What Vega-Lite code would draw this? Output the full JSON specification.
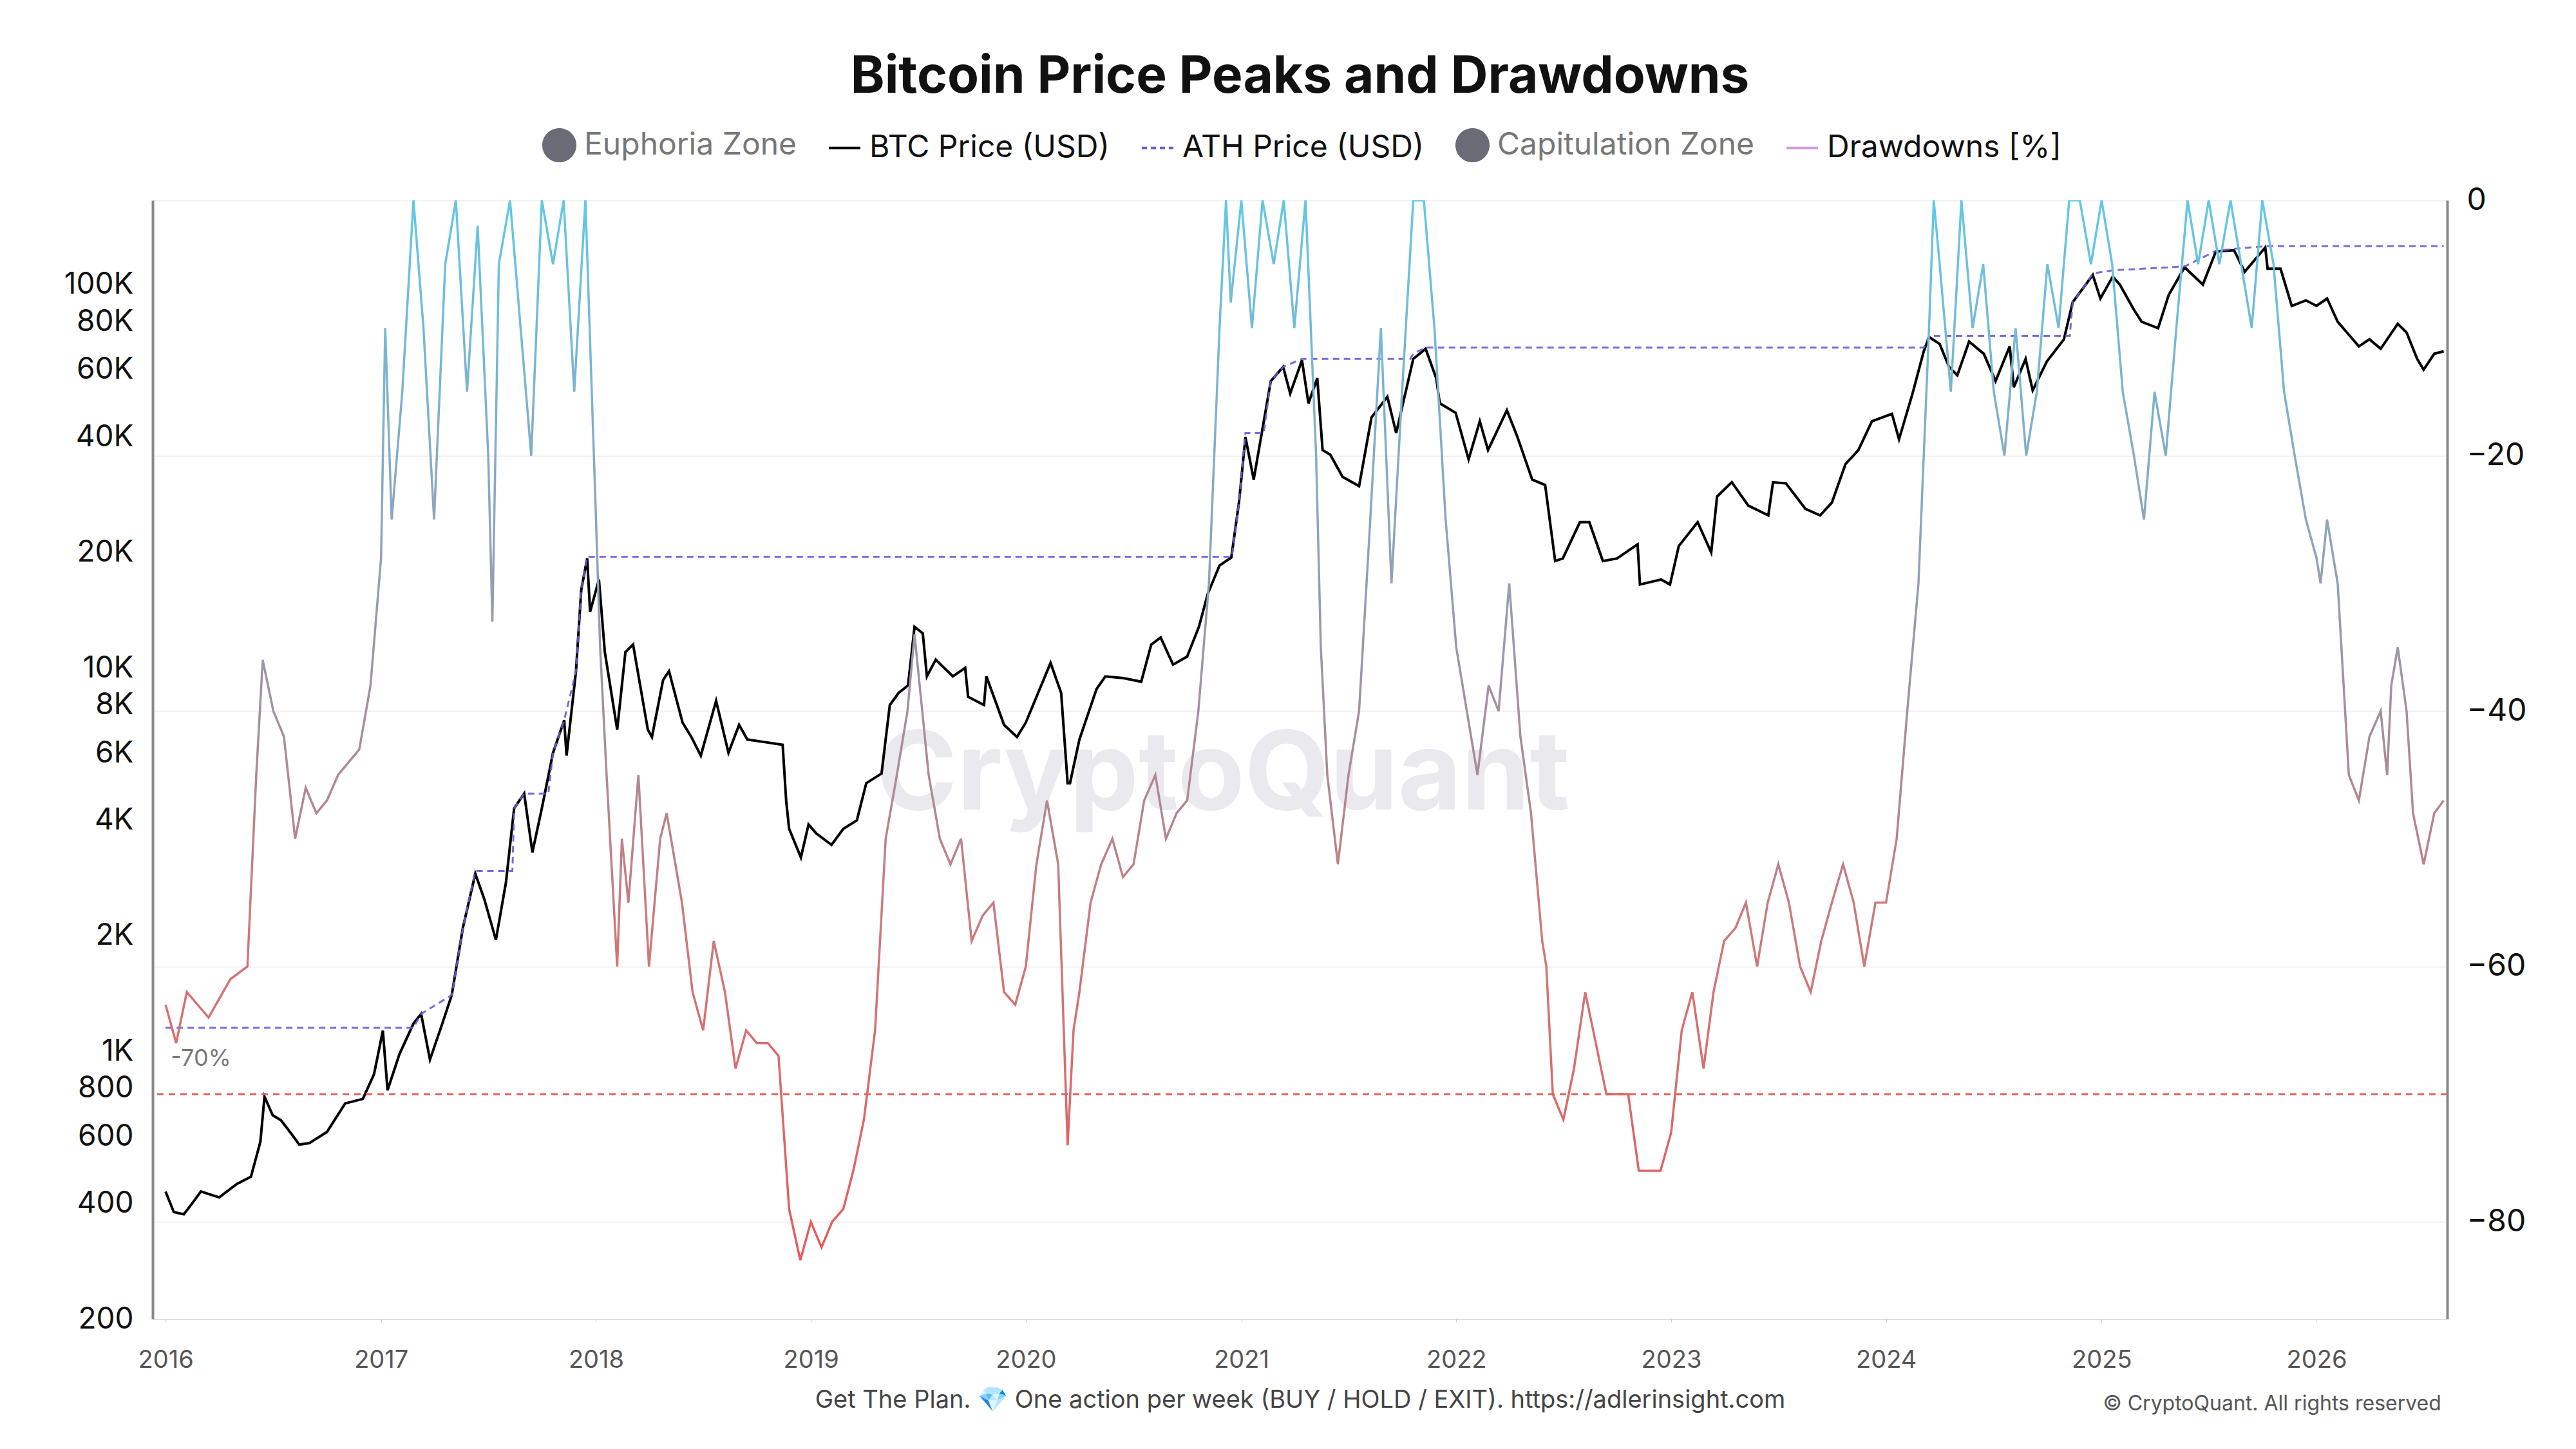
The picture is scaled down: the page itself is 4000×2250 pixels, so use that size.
{
"$schema":"https://vega.github.io/schema/vega-lite/v6.json",
"autosize":{"type":"none"},
"width":3563,"height":1737,
"padding":{"left":237,"top":311,"right":200,"bottom":202},
"background":"white",
"config":{"font":"Inter","view":{"stroke":null}},
"title":{"text":"Bitcoin Price Peaks and Drawdowns","fontSize":80,"fontWeight":"bold","color":"#111","anchor":"middle","offset":38,"font":"Inter"},
"datasets":{
"price":[
{"date":"2016-01-01","p":430},{"date":"2016-01-15","p":380},{"date":"2016-02-01","p":375},{"date":"2016-02-15","p":400},{"date":"2016-03-01","p":430},{"date":"2016-04-01","p":415},{"date":"2016-05-01","p":450},{"date":"2016-05-25","p":470},{"date":"2016-06-10","p":580},{"date":"2016-06-17","p":760},{"date":"2016-07-01","p":680},{"date":"2016-07-15","p":660},{"date":"2016-08-01","p":610},{"date":"2016-08-15","p":570},{"date":"2016-09-01","p":575},{"date":"2016-10-01","p":615},{"date":"2016-11-01","p":730},{"date":"2016-12-01","p":750},{"date":"2016-12-20","p":870},{"date":"2017-01-04","p":1130},{"date":"2017-01-12","p":790},{"date":"2017-02-01","p":980},{"date":"2017-02-25","p":1180},{"date":"2017-03-10","p":1250},{"date":"2017-03-25","p":950},{"date":"2017-04-15","p":1180},{"date":"2017-05-01","p":1400},{"date":"2017-05-20","p":2100},{"date":"2017-06-10","p":2900},{"date":"2017-06-25","p":2500},{"date":"2017-07-15","p":1950},{"date":"2017-08-01","p":2750},{"date":"2017-08-15","p":4300},{"date":"2017-09-01","p":4700},{"date":"2017-09-15","p":3300},{"date":"2017-10-01","p":4300},{"date":"2017-10-20","p":6000},{"date":"2017-11-08","p":7300},{"date":"2017-11-12","p":5900},{"date":"2017-11-28","p":9800},{"date":"2017-12-07","p":16000},{"date":"2017-12-17","p":19300},{"date":"2017-12-22","p":14000},{"date":"2018-01-06","p":17000},{"date":"2018-01-16","p":11000},{"date":"2018-02-06","p":6900},{"date":"2018-02-20","p":11000},{"date":"2018-03-05","p":11500},{"date":"2018-03-30","p":6900},{"date":"2018-04-06","p":6600},{"date":"2018-04-25","p":9300},{"date":"2018-05-05","p":9800},{"date":"2018-05-28","p":7200},{"date":"2018-06-12","p":6600},{"date":"2018-06-28","p":5900},{"date":"2018-07-24","p":8200},{"date":"2018-08-14","p":6000},{"date":"2018-09-01","p":7100},{"date":"2018-09-15","p":6500},{"date":"2018-10-15","p":6400},{"date":"2018-11-14","p":6300},{"date":"2018-11-20","p":4500},{"date":"2018-11-25","p":3800},{"date":"2018-12-15","p":3200},{"date":"2018-12-28","p":3900},{"date":"2019-01-10","p":3700},{"date":"2019-02-05","p":3450},{"date":"2019-02-25","p":3800},{"date":"2019-03-20","p":4000},{"date":"2019-04-05","p":5000},{"date":"2019-05-01","p":5300},{"date":"2019-05-15","p":8000},{"date":"2019-05-30","p":8600},{"date":"2019-06-15","p":9000},{"date":"2019-06-26","p":12800},{"date":"2019-07-10","p":12300},{"date":"2019-07-17","p":9500},{"date":"2019-08-01","p":10500},{"date":"2019-08-30","p":9500},{"date":"2019-09-20","p":10000},{"date":"2019-09-25","p":8400},{"date":"2019-10-22","p":8000},{"date":"2019-10-26","p":9500},{"date":"2019-11-25","p":7100},{"date":"2019-12-17","p":6600},{"date":"2020-01-01","p":7200},{"date":"2020-02-12","p":10300},{"date":"2020-03-01","p":8600},{"date":"2020-03-12","p":5000},{"date":"2020-03-16","p":5000},{"date":"2020-04-01","p":6500},{"date":"2020-04-30","p":8800},{"date":"2020-05-15","p":9500},{"date":"2020-06-15","p":9400},{"date":"2020-07-15","p":9200},{"date":"2020-08-01","p":11500},{"date":"2020-08-17","p":12000},{"date":"2020-09-07","p":10200},{"date":"2020-10-01","p":10700},{"date":"2020-10-21","p":12800},{"date":"2020-11-05","p":15600},{"date":"2020-11-25","p":18500},{"date":"2020-12-15","p":19400},{"date":"2020-12-28","p":27000},{"date":"2021-01-08","p":40000},{"date":"2021-01-22","p":31000},{"date":"2021-02-20","p":56000},{"date":"2021-03-13","p":61000},{"date":"2021-03-25","p":52000},{"date":"2021-04-14","p":63500},{"date":"2021-04-25","p":49000},{"date":"2021-05-10","p":57000},{"date":"2021-05-19","p":37000},{"date":"2021-06-01","p":36000},{"date":"2021-06-22","p":31500},{"date":"2021-07-20","p":29800},{"date":"2021-08-10","p":45000},{"date":"2021-09-06","p":51000},{"date":"2021-09-21","p":41000},{"date":"2021-10-20","p":64000},{"date":"2021-11-10","p":68000},{"date":"2021-11-28","p":57000},{"date":"2021-12-04","p":49000},{"date":"2021-12-31","p":46300},{"date":"2022-01-22","p":35000},{"date":"2022-02-10","p":44000},{"date":"2022-02-24","p":37000},{"date":"2022-03-28","p":47000},{"date":"2022-04-15","p":40000},{"date":"2022-05-10","p":31000},{"date":"2022-06-01","p":30000},{"date":"2022-06-18","p":19000},{"date":"2022-07-01","p":19300},{"date":"2022-07-30","p":24000},{"date":"2022-08-15","p":24000},{"date":"2022-09-07","p":19000},{"date":"2022-10-01","p":19300},{"date":"2022-11-05","p":21000},{"date":"2022-11-09","p":16500},{"date":"2022-12-15","p":17000},{"date":"2022-12-30","p":16500},{"date":"2023-01-14","p":20800},{"date":"2023-02-15","p":24000},{"date":"2023-03-10","p":20000},{"date":"2023-03-20","p":28000},{"date":"2023-04-14","p":30500},{"date":"2023-05-12","p":26500},{"date":"2023-06-15","p":25000},{"date":"2023-06-23","p":30500},{"date":"2023-07-15","p":30300},{"date":"2023-08-17","p":26000},{"date":"2023-09-11","p":25000},{"date":"2023-10-01","p":27000},{"date":"2023-10-24","p":34000},{"date":"2023-11-15","p":37000},{"date":"2023-12-08","p":44000},{"date":"2024-01-11","p":46000},{"date":"2024-01-23","p":39500},{"date":"2024-02-15","p":52000},{"date":"2024-03-05","p":67000},{"date":"2024-03-14","p":73000},{"date":"2024-04-01","p":70000},{"date":"2024-04-17","p":61000},{"date":"2024-05-01","p":58000},{"date":"2024-05-21","p":71000},{"date":"2024-06-15","p":66000},{"date":"2024-07-05","p":56000},{"date":"2024-07-29","p":69000},{"date":"2024-08-05","p":54000},{"date":"2024-08-25","p":64000},{"date":"2024-09-06","p":53000},{"date":"2024-09-30","p":63000},{"date":"2024-10-29","p":72000},{"date":"2024-11-13","p":90000},{"date":"2024-12-05","p":100000},{"date":"2024-12-17","p":106000},{"date":"2024-12-30","p":92000},{"date":"2025-01-20","p":105000},{"date":"2025-02-01","p":100000},{"date":"2025-02-25","p":86000},{"date":"2025-03-10","p":80000},{"date":"2025-04-07","p":77000},{"date":"2025-04-25","p":94000},{"date":"2025-05-22","p":111000},{"date":"2025-06-22","p":100000},{"date":"2025-07-14","p":122000},{"date":"2025-08-14","p":123000},{"date":"2025-09-01","p":108000},{"date":"2025-10-06","p":125000},{"date":"2025-10-10","p":110000},{"date":"2025-11-01","p":110000},{"date":"2025-11-20","p":88000},{"date":"2025-12-14","p":91000},{"date":"2026-01-01","p":88000},{"date":"2026-01-19","p":92000},{"date":"2026-02-06","p":80000},{"date":"2026-02-25","p":74000},{"date":"2026-03-14","p":69000},{"date":"2026-04-01","p":72000},{"date":"2026-04-20","p":68000},{"date":"2026-05-19","p":79000},{"date":"2026-06-03","p":75000},{"date":"2026-06-21","p":64000},{"date":"2026-07-02","p":60000},{"date":"2026-07-20","p":66000},{"date":"2026-08-05","p":67000}
],
"ath":[
{"date":"2016-01-01","a":1150},{"date":"2017-02-25","a":1150},{"date":"2017-03-10","a":1250},{"date":"2017-05-01","a":1400},{"date":"2017-05-20","a":2100},{"date":"2017-06-10","a":2950},{"date":"2017-08-12","a":2950},{"date":"2017-08-15","a":4300},{"date":"2017-09-01","a":4700},{"date":"2017-10-12","a":4700},{"date":"2017-10-20","a":6000},{"date":"2017-11-08","a":7300},{"date":"2017-11-28","a":9800},{"date":"2017-12-07","a":16000},{"date":"2017-12-17","a":19500},{"date":"2020-12-16","a":19500},{"date":"2020-12-28","a":27000},{"date":"2021-01-08","a":41000},{"date":"2021-02-08","a":41000},{"date":"2021-02-20","a":56000},{"date":"2021-03-13","a":61000},{"date":"2021-04-14","a":64000},{"date":"2021-10-15","a":64000},{"date":"2021-10-20","a":66000},{"date":"2021-11-10","a":68500},{"date":"2024-03-05","a":68500},{"date":"2024-03-14","a":73500},{"date":"2024-11-08","a":73500},{"date":"2024-11-13","a":90000},{"date":"2024-12-05","a":100000},{"date":"2024-12-17","a":107000},{"date":"2025-01-20","a":109000},{"date":"2025-05-22","a":111500},{"date":"2025-07-14","a":122500},{"date":"2025-08-14","a":124000},{"date":"2025-10-06","a":126000},{"date":"2026-08-05","a":126000}
],
"dd":[
{"date":"2016-01-01","d":-63},{"date":"2016-01-19","d":-66},{"date":"2016-02-06","d":-62},{"date":"2016-03-14","d":-64},{"date":"2016-04-20","d":-61},{"date":"2016-05-19","d":-60},{"date":"2016-06-03","d":-45},{"date":"2016-06-14","d":-36},{"date":"2016-07-02","d":-40},{"date":"2016-07-20","d":-42},{"date":"2016-08-08","d":-50},{"date":"2016-08-26","d":-46},{"date":"2016-09-13","d":-48},{"date":"2016-10-01","d":-47},{"date":"2016-10-20","d":-45},{"date":"2016-11-25","d":-43},{"date":"2016-12-14","d":-38},{"date":"2017-01-01","d":-28},{"date":"2017-01-08","d":-10},{"date":"2017-01-19","d":-25},{"date":"2017-02-06","d":-15},{"date":"2017-02-25","d":0},{"date":"2017-03-14","d":-10},{"date":"2017-04-01","d":-25},{"date":"2017-04-20","d":-5},{"date":"2017-05-08","d":0},{"date":"2017-05-27","d":-15},{"date":"2017-06-14","d":-2},{"date":"2017-07-02","d":-20},{"date":"2017-07-09","d":-33},{"date":"2017-07-20","d":-5},{"date":"2017-08-08","d":0},{"date":"2017-08-26","d":-10},{"date":"2017-09-13","d":-20},{"date":"2017-10-01","d":0},{"date":"2017-10-20","d":-5},{"date":"2017-11-07","d":0},{"date":"2017-11-25","d":-15},{"date":"2017-12-14","d":0},{"date":"2018-01-01","d":-25},{"date":"2018-01-08","d":-35},{"date":"2018-01-19","d":-45},{"date":"2018-02-06","d":-60},{"date":"2018-02-14","d":-50},{"date":"2018-02-25","d":-55},{"date":"2018-03-14","d":-45},{"date":"2018-04-01","d":-60},{"date":"2018-04-20","d":-50},{"date":"2018-05-01","d":-48},{"date":"2018-05-27","d":-55},{"date":"2018-06-14","d":-62},{"date":"2018-07-02","d":-65},{"date":"2018-07-20","d":-58},{"date":"2018-08-08","d":-62},{"date":"2018-08-26","d":-68},{"date":"2018-09-13","d":-65},{"date":"2018-10-01","d":-66},{"date":"2018-10-20","d":-66},{"date":"2018-11-07","d":-67},{"date":"2018-11-25","d":-79},{"date":"2018-12-14","d":-83},{"date":"2019-01-01","d":-80},{"date":"2019-01-19","d":-82},{"date":"2019-02-06","d":-80},{"date":"2019-02-25","d":-79},{"date":"2019-03-14","d":-76},{"date":"2019-04-01","d":-72},{"date":"2019-04-20","d":-65},{"date":"2019-05-08","d":-50},{"date":"2019-05-27","d":-45},{"date":"2019-06-14","d":-40},{"date":"2019-06-26","d":-34},{"date":"2019-07-20","d":-45},{"date":"2019-08-08","d":-50},{"date":"2019-08-26","d":-52},{"date":"2019-09-13","d":-50},{"date":"2019-10-01","d":-58},{"date":"2019-10-20","d":-56},{"date":"2019-11-07","d":-55},{"date":"2019-11-25","d":-62},{"date":"2019-12-14","d":-63},{"date":"2020-01-01","d":-60},{"date":"2020-01-19","d":-52},{"date":"2020-02-06","d":-47},{"date":"2020-02-25","d":-52},{"date":"2020-03-12","d":-74},{"date":"2020-03-22","d":-65},{"date":"2020-04-01","d":-62},{"date":"2020-04-20","d":-55},{"date":"2020-05-08","d":-52},{"date":"2020-05-27","d":-50},{"date":"2020-06-14","d":-53},{"date":"2020-07-02","d":-52},{"date":"2020-07-20","d":-47},{"date":"2020-08-08","d":-45},{"date":"2020-08-26","d":-50},{"date":"2020-09-13","d":-48},{"date":"2020-10-01","d":-47},{"date":"2020-10-20","d":-40},{"date":"2020-11-07","d":-30},{"date":"2020-11-25","d":-10},{"date":"2020-12-06","d":0},{"date":"2020-12-14","d":-8},{"date":"2021-01-01","d":0},{"date":"2021-01-19","d":-10},{"date":"2021-02-06","d":0},{"date":"2021-02-25","d":-5},{"date":"2021-03-14","d":0},{"date":"2021-04-01","d":-10},{"date":"2021-04-20","d":0},{"date":"2021-05-08","d":-20},{"date":"2021-05-16","d":-35},{"date":"2021-05-27","d":-45},{"date":"2021-06-14","d":-52},{"date":"2021-07-02","d":-45},{"date":"2021-07-20","d":-40},{"date":"2021-08-08","d":-25},{"date":"2021-08-26","d":-10},{"date":"2021-09-13","d":-30},{"date":"2021-10-01","d":-15},{"date":"2021-10-20","d":0},{"date":"2021-11-07","d":0},{"date":"2021-11-25","d":-10},{"date":"2021-12-14","d":-25},{"date":"2022-01-01","d":-35},{"date":"2022-01-19","d":-40},{"date":"2022-02-06","d":-45},{"date":"2022-02-25","d":-38},{"date":"2022-03-14","d":-40},{"date":"2022-04-01","d":-30},{"date":"2022-04-20","d":-42},{"date":"2022-05-08","d":-48},{"date":"2022-05-27","d":-58},{"date":"2022-06-03","d":-60},{"date":"2022-06-14","d":-70},{"date":"2022-07-02","d":-72},{"date":"2022-07-20","d":-68},{"date":"2022-08-08","d":-62},{"date":"2022-08-26","d":-66},{"date":"2022-09-13","d":-70},{"date":"2022-10-01","d":-70},{"date":"2022-10-20","d":-70},{"date":"2022-11-07","d":-76},{"date":"2022-11-25","d":-76},{"date":"2022-12-14","d":-76},{"date":"2023-01-01","d":-73},{"date":"2023-01-19","d":-65},{"date":"2023-02-06","d":-62},{"date":"2023-02-25","d":-68},{"date":"2023-03-14","d":-62},{"date":"2023-04-01","d":-58},{"date":"2023-04-20","d":-57},{"date":"2023-05-08","d":-55},{"date":"2023-05-27","d":-60},{"date":"2023-06-14","d":-55},{"date":"2023-07-02","d":-52},{"date":"2023-07-20","d":-55},{"date":"2023-08-08","d":-60},{"date":"2023-08-26","d":-62},{"date":"2023-09-13","d":-58},{"date":"2023-10-01","d":-55},{"date":"2023-10-20","d":-52},{"date":"2023-11-07","d":-55},{"date":"2023-11-25","d":-60},{"date":"2023-12-14","d":-55},{"date":"2024-01-01","d":-55},{"date":"2024-01-19","d":-50},{"date":"2024-02-06","d":-40},{"date":"2024-02-25","d":-30},{"date":"2024-03-14","d":-10},{"date":"2024-03-22","d":0},{"date":"2024-04-01","d":-5},{"date":"2024-04-20","d":-15},{"date":"2024-05-08","d":0},{"date":"2024-05-27","d":-10},{"date":"2024-06-14","d":-5},{"date":"2024-07-02","d":-15},{"date":"2024-07-20","d":-20},{"date":"2024-08-08","d":-10},{"date":"2024-08-26","d":-20},{"date":"2024-09-13","d":-15},{"date":"2024-10-01","d":-5},{"date":"2024-10-20","d":-10},{"date":"2024-11-07","d":0},{"date":"2024-11-25","d":0},{"date":"2024-12-14","d":-5},{"date":"2025-01-01","d":0},{"date":"2025-01-19","d":-5},{"date":"2025-02-06","d":-15},{"date":"2025-02-25","d":-20},{"date":"2025-03-14","d":-25},{"date":"2025-04-01","d":-15},{"date":"2025-04-20","d":-20},{"date":"2025-05-08","d":-10},{"date":"2025-05-27","d":0},{"date":"2025-06-14","d":-5},{"date":"2025-07-02","d":0},{"date":"2025-07-20","d":-5},{"date":"2025-08-08","d":0},{"date":"2025-08-26","d":-5},{"date":"2025-09-13","d":-10},{"date":"2025-10-01","d":0},{"date":"2025-10-20","d":-5},{"date":"2025-11-07","d":-15},{"date":"2025-11-25","d":-20},{"date":"2025-12-14","d":-25},{"date":"2026-01-01","d":-28},{"date":"2026-01-08","d":-30},{"date":"2026-01-19","d":-25},{"date":"2026-02-06","d":-30},{"date":"2026-02-25","d":-45},{"date":"2026-03-14","d":-47},{"date":"2026-04-01","d":-42},{"date":"2026-04-20","d":-40},{"date":"2026-05-01","d":-45},{"date":"2026-05-08","d":-38},{"date":"2026-05-19","d":-35},{"date":"2026-06-03","d":-40},{"date":"2026-06-14","d":-48},{"date":"2026-07-02","d":-52},{"date":"2026-07-20","d":-48},{"date":"2026-08-05","d":-47}
]
},
"layer":[
{"layer":[
{"data":{"values":[{"t":"CryptoQuant","date":"2020-12-01","v":5200}]},
 "mark":{"type":"text","fontSize":170,"fontWeight":"bold","color":"#e4e4ea","opacity":0.8},
 "encoding":{"x":{"field":"date","type":"temporal"},"y":{"field":"v","type":"quantitative"},"text":{"field":"t"}}},
{"data":{"name":"price"},
 "mark":{"type":"line","strokeWidth":4,"color":"#000"},
 "encoding":{
  "x":{"field":"date","type":"temporal","scale":{"domain":["2015-12-10","2026-08-11"]},
   "axis":{"format":"%Y","tickCount":{"interval":"year","step":1},"labelFontSize":38,"labelColor":"#555","grid":false,"domainColor":"#ccc","tickColor":"#ccc","labelPadding":40,
   "title":"Get The Plan. 💎 One action per week (BUY / HOLD / EXIT). https://adlerinsight.com","titleFontSize":38,"titleFontWeight":"normal","titleColor":"#444","titlePadding":24}},
  "y":{"field":"p","type":"quantitative","scale":{"type":"log","domain":[200,166000],"nice":false},
   "axis":{"title":null,"values":[200,400,600,800,1000,2000,4000,6000,8000,10000,20000,40000,60000,80000,100000],"labelExpr":"datum.value>=1000 ? (datum.value/1000)+'K' : datum.value","labelFontSize":46,"labelColor":"#111","grid":false,"domainColor":"#888","domainWidth":4,"ticks":false,"labelPadding":30}},
  "color":{"datum":"BTC Price (USD)","type":"nominal","scale":{"domain":["Euphoria Zone","BTC Price (USD)","ATH Price (USD)","Capitulation Zone","Drawdowns [%]"],"range":["#6b6b78","#000000","#6b5bd6","#6b6b78","#d49ae0"]},
   "legend":{"title":null,"orient":"none","legendX":605,"legendY":-112,"direction":"horizontal","labelFontSize":48,"labelLimit":0,"labelColor":"#111","symbolSize":2400,"symbolStrokeWidth":4,"symbolType":"stroke","columnPadding":42,"labelOffset":12,
    "encode":{"symbols":{"update":{"shape":{"signal":"indexof(['Euphoria Zone','Capitulation Zone'], datum.value) >= 0 ? 'circle' : 'stroke'"},"fill":{"signal":"indexof(['Euphoria Zone','Capitulation Zone'], datum.value) >= 0 ? '#6b6b78' : 'transparent'"},"strokeDash":{"signal":"datum.value=='ATH Price (USD)' ? [8,6] : [1,0]"}}},
     "labels":{"update":{"fill":{"signal":"indexof(['Euphoria Zone','Capitulation Zone'], datum.value) >= 0 ? '#777' : '#111'"}}}}}}
 }},
{"data":{"name":"ath"},
 "mark":{"type":"line","strokeWidth":3,"color":"#6b5bd6","strokeDash":[10,7],"opacity":0.9},
 "encoding":{"x":{"field":"date","type":"temporal"},"y":{"field":"a","type":"quantitative"}}},
{"data":{"values":[{"t":"© CryptoQuant. All rights reserved","date":"2026-08-01","v":120}]},
 "mark":{"type":"text","fontSize":32,"color":"#555","align":"right"},
 "encoding":{"x":{"field":"date","type":"temporal"},"y":{"field":"v","type":"quantitative"},"text":{"field":"t"}}}
]},
{"layer":[
{"data":{"name":"dd"},
 "mark":{"type":"line","strokeWidth":3.5,"clip":true,"color":{"gradient":"linear","x1":0,"y1":1,"x2":0,"y2":0,"stops":[{"offset":0,"color":"#e85a5a"},{"offset":0.3,"color":"#cf7878"},{"offset":0.5,"color":"#a68e9c"},{"offset":0.72,"color":"#8aa8c0"},{"offset":1,"color":"#62c8e6"}]}},
 "encoding":{"x":{"field":"date","type":"temporal"},
  "y":{"field":"d","type":"quantitative","scale":{"domain":[-87.6,0],"nice":false},
   "axis":{"orient":"right","title":null,"values":[0,-20,-40,-60,-80],"labelFontSize":48,"labelColor":"#111","grid":true,"gridColor":"#f0f0f0","gridWidth":2,"domainColor":"#888","domainWidth":4,"ticks":false,"labelPadding":30}}}},
{"data":{"values":[{"d":-70}]},
 "mark":{"type":"rule","color":"#e06060","strokeDash":[10,8],"strokeWidth":3},
 "encoding":{"y":{"field":"d","type":"quantitative"}}},
{"data":{"values":[{"t":"-70%","date":"2016-01-10","d":-68.2}]},
 "mark":{"type":"text","fontSize":36,"color":"#777","align":"left","baseline":"bottom"},
 "encoding":{"x":{"field":"date","type":"temporal"},"y":{"field":"d","type":"quantitative"},"text":{"field":"t"}}}
]}
],
"resolve":{"scale":{"y":"independent"}}
}
